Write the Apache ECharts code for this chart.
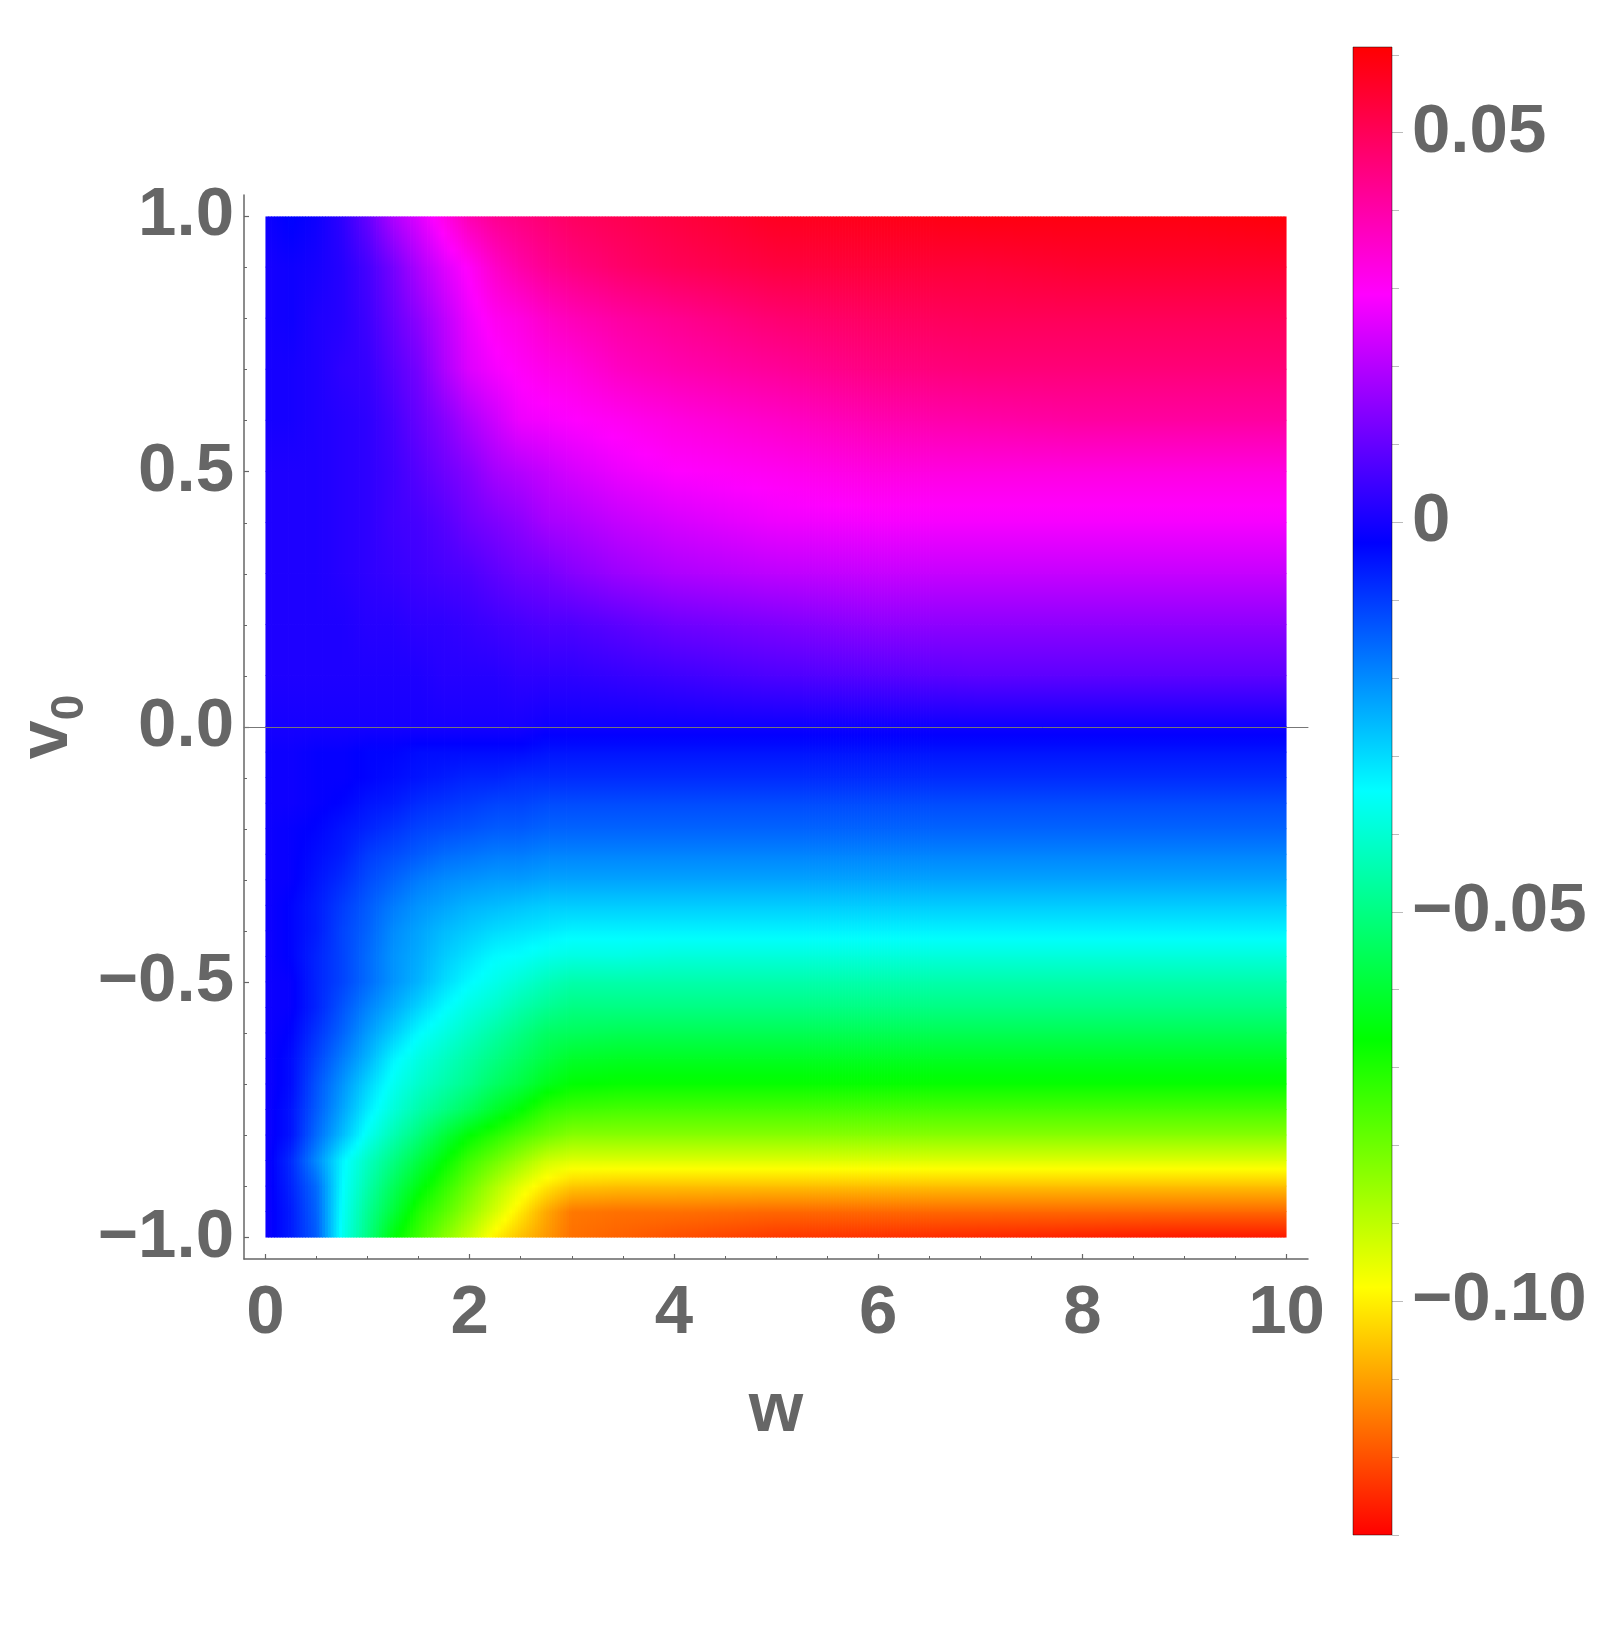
<!DOCTYPE html>
<html>
<head>
<meta charset="utf-8">
<script src="https://cdn.jsdelivr.net/npm/echarts@6/dist/echarts.min.js"></script>
<style>
html,body{margin:0;padding:0;background:#ffffff;}
#chart{width:1600px;height:1628px;}
</style>
</head>
<body>
<div id="chart"></div>
<script>
// ---- data ----
const wNodes = [0, 0.25, 0.5, 0.75, 1, 1.25, 1.5, 1.75, 2, 2.25, 2.5, 2.75, 3, 3.5, 4, 5, 6, 7, 8, 9, 10];
const vNodes = [-1, -0.95, -0.9, -0.85, -0.8, -0.75, -0.7, -0.65, -0.6, -0.55, -0.5, -0.45, -0.4, -0.35, -0.3, -0.25, -0.2, -0.15, -0.1, -0.05, 0, 0.1, 0.2, 0.3, 0.4, 0.5, 0.6, 0.7, 0.8, 0.9, 1];
// one row per entry of vNodes, one column per entry of wNodes
const zGrid = [
  [-0.001,-0.006,-0.014,-0.036,-0.050,-0.065,-0.074,-0.083,-0.091,-0.100,-0.106,-0.111,-0.116,-0.118,-0.120,-0.123,-0.124,-0.125,-0.126,-0.127,-0.127],
  [-0.001,-0.006,-0.015,-0.035,-0.048,-0.059,-0.070,-0.077,-0.085,-0.093,-0.101,-0.109,-0.115,-0.116,-0.116,-0.117,-0.117,-0.117,-0.117,-0.117,-0.117],
  [-0.001,-0.007,-0.016,-0.034,-0.045,-0.055,-0.064,-0.072,-0.080,-0.088,-0.095,-0.101,-0.105,-0.106,-0.106,-0.106,-0.106,-0.106,-0.106,-0.106,-0.106],
  [-0.001,-0.008,-0.020,-0.033,-0.042,-0.050,-0.058,-0.066,-0.074,-0.080,-0.086,-0.092,-0.094,-0.094,-0.094,-0.094,-0.094,-0.094,-0.094,-0.094,-0.094],
  [-0.001,-0.005,-0.016,-0.026,-0.036,-0.044,-0.051,-0.059,-0.066,-0.071,-0.076,-0.080,-0.083,-0.083,-0.083,-0.083,-0.083,-0.083,-0.083,-0.083,-0.083],
  [-0.001,-0.005,-0.014,-0.023,-0.032,-0.039,-0.045,-0.050,-0.055,-0.061,-0.066,-0.072,-0.074,-0.075,-0.075,-0.075,-0.075,-0.075,-0.075,-0.075,-0.075],
  [-0.001,-0.004,-0.013,-0.021,-0.029,-0.036,-0.041,-0.045,-0.049,-0.054,-0.058,-0.063,-0.066,-0.067,-0.067,-0.067,-0.067,-0.067,-0.067,-0.067,-0.067],
  [-0.001,-0.004,-0.011,-0.018,-0.025,-0.033,-0.038,-0.042,-0.046,-0.050,-0.054,-0.058,-0.061,-0.062,-0.062,-0.062,-0.062,-0.062,-0.062,-0.062,-0.062],
  [-0.001,-0.003,-0.009,-0.015,-0.022,-0.028,-0.034,-0.038,-0.042,-0.046,-0.050,-0.054,-0.055,-0.056,-0.056,-0.056,-0.056,-0.056,-0.056,-0.056,-0.056],
  [-0.001,-0.002,-0.007,-0.013,-0.019,-0.024,-0.029,-0.034,-0.038,-0.041,-0.045,-0.048,-0.050,-0.050,-0.050,-0.050,-0.050,-0.050,-0.050,-0.050,-0.050],
  [-0.001,-0.002,-0.007,-0.011,-0.016,-0.021,-0.025,-0.030,-0.034,-0.037,-0.040,-0.043,-0.045,-0.045,-0.045,-0.045,-0.045,-0.045,-0.045,-0.045,-0.045],
  [-0.001,-0.003,-0.007,-0.011,-0.016,-0.021,-0.024,-0.028,-0.031,-0.034,-0.035,-0.037,-0.038,-0.038,-0.039,-0.039,-0.039,-0.039,-0.039,-0.039,-0.039],
  [-0.001,-0.003,-0.006,-0.011,-0.015,-0.020,-0.023,-0.026,-0.028,-0.030,-0.031,-0.032,-0.033,-0.033,-0.033,-0.033,-0.033,-0.033,-0.033,-0.033,-0.033],
  [-0.001,-0.003,-0.006,-0.010,-0.014,-0.018,-0.021,-0.023,-0.025,-0.026,-0.027,-0.028,-0.028,-0.028,-0.028,-0.028,-0.028,-0.028,-0.028,-0.028,-0.028],
  [-0.001,-0.002,-0.005,-0.008,-0.012,-0.015,-0.018,-0.020,-0.021,-0.022,-0.022,-0.023,-0.023,-0.023,-0.023,-0.023,-0.023,-0.023,-0.023,-0.023,-0.023],
  [-0.001,-0.002,-0.004,-0.006,-0.010,-0.012,-0.014,-0.016,-0.017,-0.018,-0.018,-0.019,-0.019,-0.019,-0.019,-0.019,-0.019,-0.019,-0.019,-0.019,-0.019],
  [-0.001,-0.002,-0.003,-0.005,-0.007,-0.009,-0.011,-0.012,-0.013,-0.014,-0.014,-0.015,-0.015,-0.015,-0.015,-0.015,-0.015,-0.015,-0.015,-0.015,-0.015],
  [-0.001,-0.001,-0.002,-0.003,-0.005,-0.006,-0.008,-0.009,-0.010,-0.011,-0.011,-0.012,-0.012,-0.012,-0.012,-0.012,-0.012,-0.012,-0.012,-0.012,-0.012],
  [-0.001,-0.001,-0.002,-0.002,-0.003,-0.004,-0.005,-0.006,-0.007,-0.007,-0.008,-0.008,-0.008,-0.008,-0.008,-0.008,-0.008,-0.008,-0.008,-0.008,-0.008],
  [-0.001,-0.001,-0.002,-0.002,-0.003,-0.003,-0.004,-0.004,-0.004,-0.004,-0.004,-0.005,-0.005,-0.005,-0.005,-0.005,-0.005,-0.005,-0.005,-0.005,-0.005],
  [0.000,0.000,0.000,0.000,0.000,0.000,0.000,0.000,0.000,0.000,0.000,-0.001,-0.001,-0.001,-0.001,-0.001,-0.001,-0.001,-0.001,-0.001,-0.001],
  [0.001,0.001,0.001,0.001,0.001,0.001,0.001,0.002,0.002,0.002,0.003,0.003,0.003,0.004,0.005,0.007,0.008,0.009,0.009,0.009,0.009],
  [0.001,0.001,0.001,0.001,0.002,0.002,0.003,0.003,0.004,0.005,0.006,0.007,0.007,0.009,0.011,0.013,0.015,0.015,0.015,0.015,0.015],
  [0.001,0.001,0.001,0.002,0.003,0.004,0.005,0.006,0.007,0.009,0.011,0.012,0.014,0.017,0.019,0.021,0.022,0.022,0.022,0.022,0.022],
  [0.001,0.001,0.001,0.002,0.003,0.005,0.006,0.008,0.011,0.013,0.015,0.018,0.019,0.022,0.024,0.027,0.028,0.028,0.028,0.028,0.028],
  [0.001,0.001,0.001,0.002,0.003,0.005,0.008,0.011,0.014,0.018,0.020,0.022,0.024,0.027,0.029,0.031,0.033,0.033,0.033,0.033,0.033],
  [0.000,0.000,0.001,0.002,0.003,0.006,0.010,0.014,0.019,0.023,0.027,0.028,0.029,0.031,0.033,0.036,0.039,0.040,0.041,0.041,0.041],
  [0.000,0.000,0.001,0.003,0.004,0.008,0.012,0.019,0.025,0.028,0.030,0.032,0.033,0.037,0.039,0.042,0.045,0.046,0.046,0.046,0.046],
  [0.000,-0.001,0.001,0.002,0.005,0.010,0.015,0.021,0.027,0.031,0.033,0.036,0.038,0.041,0.043,0.047,0.049,0.050,0.050,0.050,0.050],
  [0.000,-0.001,0.000,0.002,0.006,0.012,0.019,0.025,0.030,0.036,0.040,0.043,0.045,0.048,0.050,0.053,0.054,0.054,0.055,0.055,0.055],
  [-0.001,-0.003,-0.001,0.003,0.010,0.019,0.025,0.032,0.039,0.043,0.045,0.047,0.049,0.051,0.053,0.057,0.058,0.059,0.059,0.059,0.060]
];
const colorbarMin = -0.13;
const colorbarMax = 0.061;
const xTickValues = [0, 2, 4, 6, 8, 10];
const xMinorTickValues = [0.5, 1, 1.5, 2.5, 3, 3.5, 4.5, 5, 5.5, 6.5, 7, 7.5, 8.5, 9, 9.5];
const yTickValues = [-1, -0.5, 0, 0.5, 1];
const yMinorTickValues = [-0.9, -0.8, -0.7, -0.6, -0.4, -0.3, -0.2, -0.1, 0.1, 0.2, 0.3, 0.4, 0.6, 0.7, 0.8, 0.9];
const barTickValues = [-0.1, -0.05, 0, 0.05];
const barMinorTickValues = [-0.13, -0.12, -0.11, -0.09, -0.08, -0.07, -0.06, -0.04, -0.03, -0.02, -0.01, 0.01, 0.02, 0.03, 0.04, 0.06];
const xName = 'w';
const yNameMain = 'v';
const yNameSub = '0';

// ---- styling ----
const hueColors = ['#ff0000', '#ffff00', '#00ff00', '#00ffff', '#0000ff', '#ff00ff', '#ff0000'];
const FONT = { fontFamily: 'Liberation Sans', fontWeight: 'bold', color: '#666666', fontSize: 69 };
const AXIS_COLOR = '#666666';

function colorOf(z) {
  let t = (z - colorbarMin) / (colorbarMax - colorbarMin);
  t = Math.max(0, Math.min(1, t));
  return echarts.color.lerp(t, hueColors);
}

// one data item per patch between neighbouring nodes: [wl, wr, vb, vt, z_bl, z_br, z_tl, z_tr]
const patches = [];
for (let i = 0; i < vNodes.length - 1; i++) {
  for (let j = 0; j < wNodes.length - 1; j++) {
    patches.push([wNodes[j], wNodes[j + 1], vNodes[i], vNodes[i + 1],
      zGrid[i][j], zGrid[i][j + 1], zGrid[i + 1][j], zGrid[i + 1][j + 1]]);
  }
}
const wMaxNode = wNodes[wNodes.length - 1];
const vMaxNode = vNodes[vNodes.length - 1];

function renderPatch(params, api) {
  const wl = api.value(0), wr = api.value(1), vb = api.value(2), vt = api.value(3);
  const zbl = api.value(4), zbr = api.value(5), ztl = api.value(6), ztr = api.value(7);
  const tl = api.coord([wl, vt]);
  const br = api.coord([wr, vb]);
  const pw = br[0] - tl[0], ph = br[1] - tl[1];
  const n = Math.max(1, Math.round(pw / 3));
  const extT = vt < vMaxNode ? 0.8 : 0;
  const children = [];
  for (let s = 0; s < n; s++) {
    const f = (s + 0.5) / n;
    const zb = zbl + (zbr - zbl) * f;
    const zt = ztl + (ztr - ztl) * f;
    const x0 = tl[0] + pw * s / n;
    const x1 = tl[0] + pw * (s + 1) / n;
    const extR = (s < n - 1 || wr < wMaxNode) ? 0.8 : 0;
    const stops = [];
    for (let k = 0; k <= 3; k++) {
      const g = k / 3;
      stops.push({ offset: g, color: colorOf(zt + (zb - zt) * g) });
    }
    children.push({
      type: 'rect',
      shape: { x: x0, y: tl[1] - extT, width: x1 - x0 + extR, height: ph + extT },
      style: { fill: new echarts.graphic.LinearGradient(0, 0, 0, 1, stops) }
    });
  }
  return { type: 'group', children: children };
}

function renderBar(params, api) {
  const tl = api.coord([api.value(0), api.value(3)]);
  const br = api.coord([api.value(1), api.value(2)]);
  const n = hueColors.length - 1;
  const stops = hueColors.map((c, k) => ({ offset: 1 - k / n, color: c })).reverse();
  return {
    type: 'rect',
    shape: { x: tl[0], y: tl[1], width: br[0] - tl[0], height: br[1] - tl[1] },
    style: { fill: new echarts.graphic.LinearGradient(0, 0, 0, 1, stops), stroke: 'rgba(0,0,0,0.45)', lineWidth: 1 }
  };
}

const fmtY = v => (v < 0 ? '\u2212' : '') + Math.abs(v).toFixed(1);
const fmtBar = v => (Math.abs(v) < 1e-9 ? '0' : (v < 0 ? '\u2212' : '') + Math.abs(v).toFixed(2));

const chart = echarts.init(document.getElementById('chart'), null, { renderer: 'canvas' });
const option = {
  backgroundColor: '#ffffff',
  animation: false,
  textStyle: { fontFamily: 'Liberation Sans' },
  grid: [
    { left: 244, top: 195, width: 1064, height: 1064, containLabel: false, outerBoundsMode: 'none' },
    { left: 1353, top: 47, width: 39, height: 1488, containLabel: false, outerBoundsMode: 'none' }
  ],
  xAxis: [
    {
      gridIndex: 0, type: 'value', min: -0.21, max: 10.21, position: 'bottom',
      axisLine: { show: true, onZero: false, lineStyle: { color: AXIS_COLOR, width: 1.5 } },
      axisTick: { show: true, inside: true, length: 5, customValues: xTickValues, lineStyle: { color: AXIS_COLOR, width: 1.2 } },
      axisLabel: Object.assign({ show: true, customValues: xTickValues, margin: 20, hideOverlap: false, formatter: v => String(v) }, FONT),
      splitLine: { show: false }, minorTick: { show: false },
      name: xName, nameLocation: 'middle', nameGap: 118, nameMoveOverlap: false,
      nameTextStyle: Object.assign({}, FONT, { fontSize: 70 })
    },
    {
      gridIndex: 0, type: 'value', min: -0.21, max: 10.21, position: 'bottom',
      axisLine: { show: false, onZero: false },
      axisTick: { show: true, inside: true, length: 3, customValues: xMinorTickValues, lineStyle: { color: AXIS_COLOR, width: 1 } },
      axisLabel: { show: false }, splitLine: { show: false }
    },
    {
      gridIndex: 0, type: 'value', min: -0.21, max: 10.21, position: 'bottom', z: 5,
      axisLine: { show: true, onZero: true, onZeroAxisIndex: 0, lineStyle: { color: '#777777', width: 1 } },
      axisTick: { show: false }, axisLabel: { show: false }, splitLine: { show: false }
    },
    {
      gridIndex: 1, type: 'value', min: 0, max: 1, show: false,
      axisLine: { onZero: false }, splitLine: { show: false }
    }
  ],
  yAxis: [
    {
      gridIndex: 0, type: 'value', min: -1.042, max: 1.042, position: 'left',
      axisLine: { show: true, onZero: false, lineStyle: { color: AXIS_COLOR, width: 1.5 } },
      axisTick: { show: true, inside: true, length: 5, customValues: yTickValues, lineStyle: { color: AXIS_COLOR, width: 1.2 } },
      axisLabel: Object.assign({ show: true, customValues: yTickValues, margin: 10, hideOverlap: false, formatter: fmtY }, FONT),
      splitLine: { show: false }, minorTick: { show: false },
      name: '{v|' + yNameMain + '}{s|' + yNameSub + '}', nameLocation: 'middle', nameGap: 151, nameRotate: 90,
      nameMoveOverlap: false,
      nameTextStyle: {
        rich: {
          v: Object.assign({}, FONT, { fontSize: 70, lineHeight: 90 }),
          s: Object.assign({}, FONT, { fontSize: 46, verticalAlign: 'bottom' })
        }
      }
    },
    {
      gridIndex: 0, type: 'value', min: -1.042, max: 1.042, position: 'left',
      axisLine: { show: false, onZero: false },
      axisTick: { show: true, inside: true, length: 3, customValues: yMinorTickValues, lineStyle: { color: AXIS_COLOR, width: 1 } },
      axisLabel: { show: false }, splitLine: { show: false }
    },
    {
      gridIndex: 1, type: 'value', min: colorbarMin, max: colorbarMax, position: 'right',
      axisLine: { show: false, onZero: false },
      axisTick: { show: true, inside: false, length: 11, customValues: barTickValues, lineStyle: { color: '#bbbbbb', width: 1 } },
      axisLabel: Object.assign({ show: true, customValues: barTickValues, margin: 20, hideOverlap: false, formatter: fmtBar }, FONT),
      splitLine: { show: false }
    },
    {
      gridIndex: 1, type: 'value', min: colorbarMin, max: colorbarMax, position: 'right',
      axisLine: { show: false, onZero: false },
      axisTick: { show: true, inside: false, length: 7, customValues: barMinorTickValues, lineStyle: { color: '#bbbbbb', width: 1 } },
      axisLabel: { show: false }, splitLine: { show: false }
    }
  ],
  series: [
    {
      type: 'custom', xAxisIndex: 0, yAxisIndex: 0, renderItem: renderPatch, data: patches,
      encode: { x: [0, 1], y: [2, 3] }, silent: true, animation: false, clip: false
    },
    {
      type: 'custom', xAxisIndex: 3, yAxisIndex: 2, renderItem: renderBar,
      data: [[0, 1, colorbarMin, colorbarMax]],
      encode: { x: [0, 1], y: [2, 3] }, silent: true, animation: false, clip: false
    }
  ]
};
chart.setOption(option);
</script>
</body>
</html>
